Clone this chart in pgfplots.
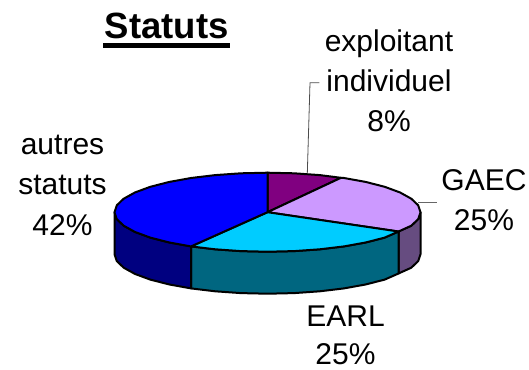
\documentclass[border=0pt]{standalone}
\usepackage{pgfplots}
\pgfplotsset{compat=1.18}
\usepackage{fontspec}
\setmainfont{Liberation Sans}
\definecolor{cPurple}{HTML}{800080}
\definecolor{cLilac}{HTML}{CC99FF}
\definecolor{cCyan}{HTML}{00CCFF}
\definecolor{cBlue}{HTML}{0000FF}
\definecolor{dLilac}{HTML}{664C80}
\definecolor{dCyan}{HTML}{006680}
\definecolor{dBlue}{HTML}{000080}
\tikzset{pie/.style={draw=black,line width=2pt,line join=round,mark=none},
  lab/.style={anchor=base,font=\fontsize{30}{32}\selectfont,inner sep=0pt}}
\begin{document}
\begin{tikzpicture}
\path[use as bounding box] (0,0) rectangle (529pt,369pt);
\begin{axis}[at={(0,0)},anchor=south west,scale only axis,width=529pt,height=369pt,
  xmin=0,xmax=529,ymin=0,ymax=369,y dir=reverse,axis lines=none,clip=false]
% sides
\addplot[pie,fill=dLilac] coordinates {(420.5,212.2)(418.2,219.1)(411.3,225.7)(398.5,231.5)(398.5,273.5)(411.3,267.7)(418.2,261.1)(420.5,254.2)} -- cycle;
\addplot[pie,fill=dCyan] coordinates {(398.5,231.5)(384.7,237.6)(365.8,242.45)(344,246.4)(319.8,249.3)(294.1,251.1)(267.5,251.7)(240.9,251.1)(215.2,249.3)(191,246.4)(191,288.4)(215.2,291.3)(240.9,293.1)(267.5,293.7)(294.1,293.1)(319.8,291.3)(344,288.4)(365.8,284.45)(384.7,279.6)(398.5,273.5)} -- cycle;
\addplot[pie,fill=dBlue] coordinates {(191,246.4)(169.2,242.45)(150.3,237.6)(135,231.95)(123.7,225.7)(116.8,219.1)(114.5,212.2)(114.5,254.2)(116.8,261.1)(123.7,267.7)(135,273.95)(150.3,279.6)(169.2,284.45)(191,288.4)} -- cycle;
% top
\addplot[pie,fill=cPurple] coordinates {(267.5,212.2)(267.5,172.7)(294.1,173.3)(319.8,175.1)(341,177.8)} -- cycle;
\addplot[pie,fill=cLilac] coordinates {(267.5,212.2)(341,177.8)(344,178)(365.8,181.95)(384.7,186.8)(400,192.45)(411.3,198.7)(418.2,205.3)(420.5,212.2)(418.2,219.1)(411.3,225.7)(398.5,231.5)} -- cycle;
\addplot[pie,fill=cCyan] coordinates {(267.5,212.2)(398.5,231.5)(384.7,237.6)(365.8,242.45)(344,246.4)(319.8,249.3)(294.1,251.1)(267.5,251.7)(240.9,251.1)(215.2,249.3)(191,246.4)} -- cycle;
\addplot[pie,fill=cBlue] coordinates {(267.5,212.2)(191,246.4)(169.2,242.45)(150.3,237.6)(135,231.95)(123.7,225.7)(116.8,219.1)(114.5,212.2)(116.8,205.3)(123.7,198.7)(135,192.45)(150.3,186.8)(169.2,181.95)(191,178)(215.2,175.1)(240.9,173.3)(267.5,172.7)} -- cycle;
% leaders
\addplot[draw=black!70,line width=0.8pt,mark=none] coordinates {(319.3,82.7)(310,82.7)(307.3,173.5)};
\addplot[draw=black!60,line width=0.8pt,mark=none] coordinates {(418,202.7)(436.7,202.7)};
% title underline
\addplot[draw=black,line width=5.5pt,mark=none] coordinates {(103.3,45.5)(230,45.5)};
% text
\node[lab,font=\fontsize{36.5}{38}\selectfont\bfseries] at (axis cs:166.7,38.3) {Statuts};
\node[lab] at (axis cs:389,51.7) {exploitant};
\node[lab] at (axis cs:389,91.7) {individuel};
\node[lab] at (axis cs:389,131.5) {8\%};
\node[lab] at (axis cs:484,190) {GAEC};
\node[lab] at (axis cs:484,230) {25\%};
\node[lab] at (axis cs:345.5,326.7) {EARL};
\node[lab] at (axis cs:345.5,364.5) {25\%};
\node[lab] at (axis cs:62.5,154.3) {autres};
\node[lab] at (axis cs:62.5,194) {statuts};
\node[lab] at (axis cs:62.5,235) {42\%};
\end{axis}
\end{tikzpicture}
\end{document}
